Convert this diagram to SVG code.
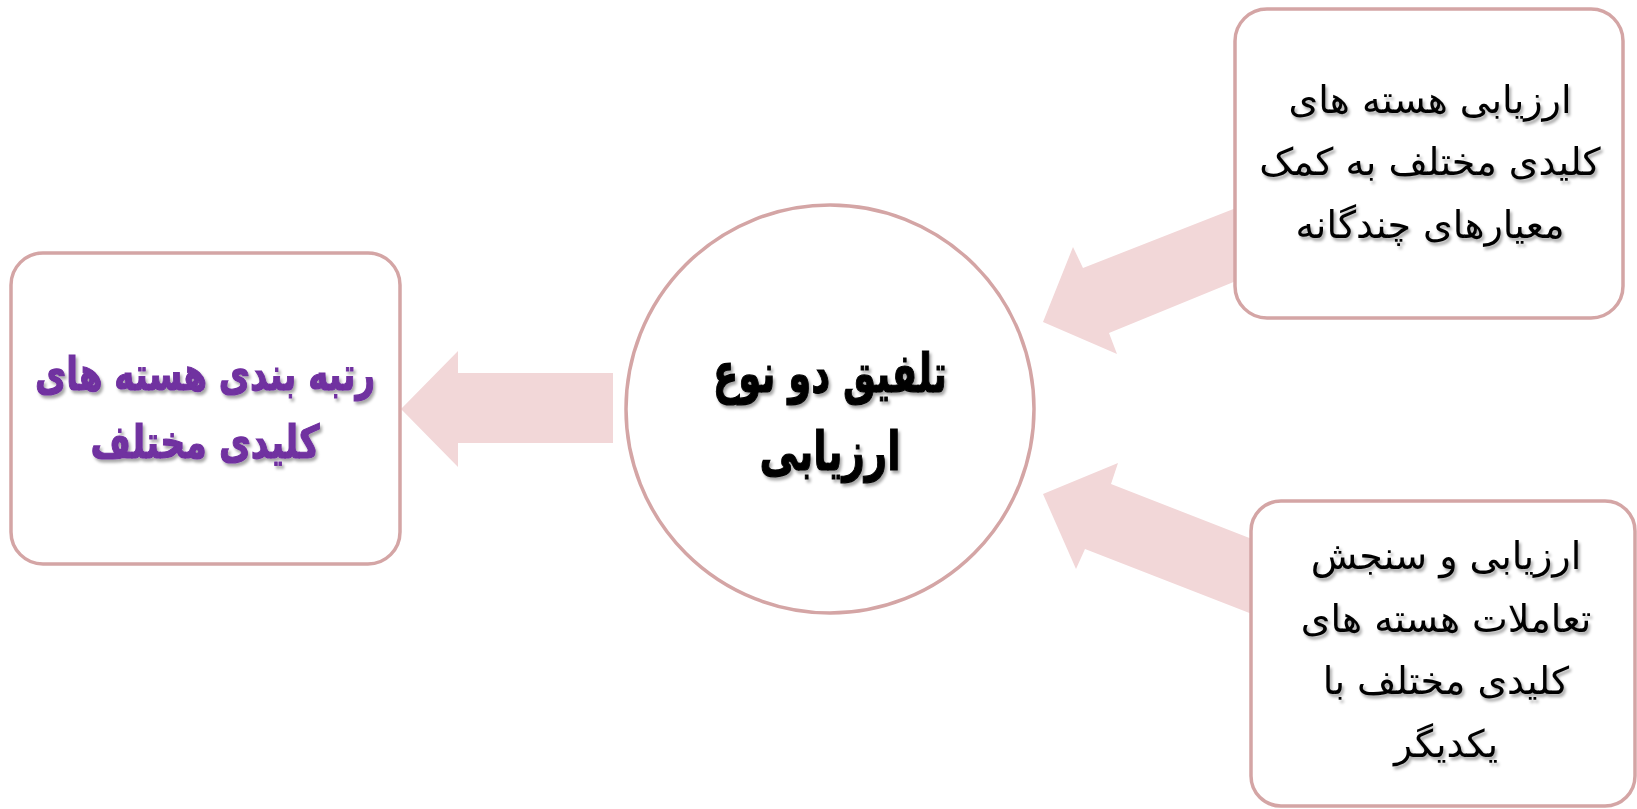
<svg xmlns="http://www.w3.org/2000/svg" width="1637" height="809" viewBox="0 0 1637 809">
<defs>
<filter id="sh" x="-10%" y="-20%" width="130%" height="150%">
<feDropShadow dx="2" dy="3" stdDeviation="1.5" flood-color="#000" flood-opacity="0.35"/>
</filter>
<style>
.box{fill:#fff;stroke:#D4A5A5;stroke-width:3.5}
.arrow{fill:#F2D7D8;stroke:none}
.t{font-family:"DejaVu Sans",sans-serif;text-anchor:middle;direction:rtl;filter:url(#sh)}
.reg{font-size:38px;fill:#000}
.bold{font-weight:bold;font-size:46px;stroke-width:1.2}
.purple{fill:#7030A0;stroke:#7030A0}
.black{fill:#000;stroke:#000;font-size:54px}
</style>
</defs>
<rect width="1637" height="809" fill="#fff"/>
<g id="connectors">
<polygon class="arrow" points="613,373 458,373 458,351 401,409 458,467 458,443 613,443"/>
<polygon class="arrow" points="1236,208 1083,268 1073,247 1043,322 1117,354 1109,333 1236,281"/>
<polygon class="arrow" points="1252,539 1111,484 1118,463 1043,494 1076,569 1085,549 1252,614"/>
</g>
<g id="node-rank">
<rect class="box" x="11" y="253" width="389" height="311" rx="32"/>
<text class="t bold purple" x="205" y="390" textLength="340" lengthAdjust="spacingAndGlyphs">رتبه بندی هسته های</text>
<text class="t bold purple" x="205" y="458" textLength="229" lengthAdjust="spacingAndGlyphs">کلیدی مختلف</text>
</g>
<g id="node-combine">
<circle class="box" cx="830" cy="409" r="204"/>
<text class="t bold black" x="830" y="392" textLength="234" lengthAdjust="spacingAndGlyphs">تلفیق دو نوع</text>
<text class="t bold black" x="830" y="470" textLength="141" lengthAdjust="spacingAndGlyphs">ارزیابی</text>
</g>
<g id="node-multi">
<rect class="box" x="1235" y="9" width="388" height="309" rx="32"/>
<text class="t reg" x="1430" y="113">ارزیابی هسته های</text>
<text class="t reg" x="1430" y="175">کلیدی مختلف به کمک</text>
<text class="t reg" x="1430" y="238">معیارهای چندگانه</text>
</g>
<g id="node-interact">
<rect class="box" x="1251" y="501" width="384" height="305" rx="30"/>
<text class="t reg" x="1446" y="569">ارزیابی و سنجش</text>
<text class="t reg" x="1446" y="632">تعاملات هسته های</text>
<text class="t reg" x="1446" y="694">کلیدی مختلف با</text>
<text class="t reg" x="1446" y="757">یکدیگر</text>
</g>
</svg>
